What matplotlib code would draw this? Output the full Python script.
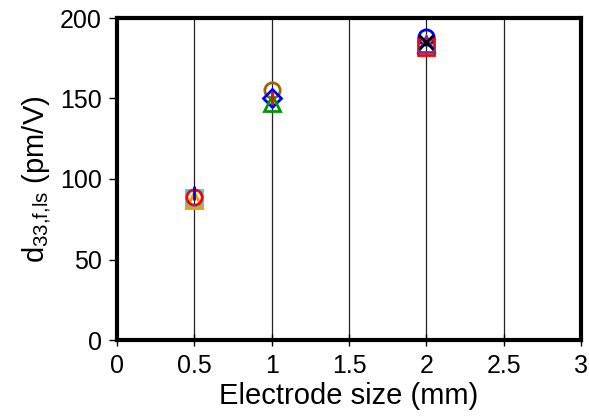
import matplotlib
matplotlib.use("Agg")
import matplotlib.pyplot as plt

plt.rcParams['font.family'] = ['Liberation Sans', 'DejaVu Sans']

# Series: (x, y, marker, color)
x_05 = [0.5, 0.5, 0.5, 0.5]
y_05 = [88, 87, 89, 91]
x_10 = [1.0, 1.0, 1.0, 1.0]
y_10 = [155, 150, 147, 150]
x_20 = [2.0, 2.0, 2.0, 2.0]
y_20 = [188, 182, 184, 185]

markers_05 = ['s', '^', 'o', '|']
colors_05 = ['#33ccff', '#e8a000', '#ff0000', '#0000ff']
markers_10 = ['o', 'D', '^', '|']
colors_10 = ['#996600', '#0000ff', '#009900', '#ff0000']
markers_20 = ['o', 's', '^', 'x']
colors_20 = ['#0000ff', '#ff0000', '#7030a0', '#000000']

xticks = [0, 0.5, 1, 1.5, 2, 2.5, 3]
xticklabels = ['0', '0.5', '1', '1.5', '2', '2.5', '3']
yticks = [0, 50, 100, 150, 200]

fig = plt.figure(figsize=(5.89, 4.2), dpi=100)
ax = fig.add_axes([117/589, 1-340/420, (581-117)/589, (340-18)/420])

for xs, ys, ms, cs in [(x_05, y_05, markers_05, colors_05),
                       (x_10, y_10, markers_10, colors_10),
                       (x_20, y_20, markers_20, colors_20)]:
    for x, y, m, c in zip(xs, ys, ms, cs):
        if m in ('|', 'x'):
            ax.plot([x], [y], marker=m, color=c, markersize=10, mew=2, linestyle='none', zorder=5)
        else:
            ax.plot([x], [y], marker=m, markerfacecolor='none', markeredgecolor=c,
                    markersize=11 if m != 'D' else 9, mew=2, linestyle='none', zorder=4)

ax.set_xlim(0, 3)
ax.set_ylim(0, 200)
ax.set_xticks(xticks)
ax.set_xticklabels(xticklabels)
ax.set_yticks(yticks)
ax.grid(axis='x', color='#222222', linewidth=0.9)
ax.set_axisbelow(True)
for s in ax.spines.values():
    s.set_linewidth(3)
    s.set_color('black')
ax.tick_params(axis='both', labelsize=18, width=1, length=6, color='black', pad=5)
ax.tick_params(axis='x', direction='inout', length=8, pad=6)
ax.set_xlabel('Electrode size (mm)', fontsize=21, labelpad=3)
ax.set_ylabel('d$_{\\mathregular{33{,}f{,}ls}}$ (pm/V)', fontsize=21, labelpad=5)

fig.savefig('out.png', dpi=100)
